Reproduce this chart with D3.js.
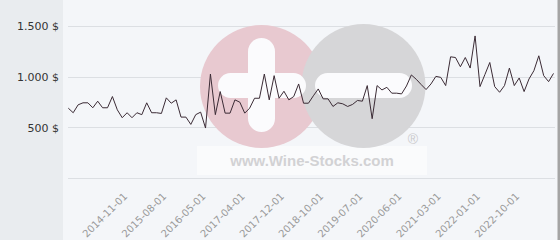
<!DOCTYPE html>
<html>
<head>
<meta charset="utf-8">
<script src="https://cdn.jsdelivr.net/npm/d3@7"></script>
<style>
  html, body { margin: 0; padding: 0; background: #e9ecef; }
  svg { display: block; }
</style>
</head>
<body>
<svg id="chart" width="560" height="240"></svg>
<script>
const categories = [
  "2013-09-01","2013-10-01","2013-11-01","2013-12-01","2014-01-01","2014-02-01","2014-03-01","2014-04-01","2014-05-01","2014-06-01",
  "2014-07-01","2014-08-01","2014-09-01","2014-10-01","2014-11-01","2014-12-01","2015-01-01","2015-02-01","2015-03-01","2015-05-01",
  "2015-06-01","2015-07-01","2015-08-01","2015-09-01","2015-10-01","2015-11-01","2015-12-01","2016-01-01","2016-03-01","2016-04-01",
  "2016-05-01","2016-06-01","2016-07-01","2016-09-01","2016-10-01","2016-12-01","2017-01-01","2017-03-01","2017-04-01","2017-05-01",
  "2017-06-01","2017-07-01","2017-08-01","2017-09-01","2017-10-01","2017-11-01","2017-12-01","2018-01-01","2018-02-01","2018-04-01",
  "2018-05-01","2018-06-01","2018-07-01","2018-09-01","2018-10-01","2018-11-01","2018-12-01","2019-01-01","2019-02-01","2019-03-01",
  "2019-05-01","2019-06-01","2019-07-01","2019-08-01","2019-09-01","2019-11-01","2019-12-01","2020-02-01","2020-03-01","2020-05-01",
  "2020-06-01","2020-07-01","2020-08-01","2020-09-01","2020-10-01","2020-11-01","2020-12-01","2021-02-01","2021-03-01","2021-04-01",
  "2021-05-01","2021-06-01","2021-07-01","2021-08-01","2021-10-01","2021-12-01","2022-01-01","2022-02-01","2022-03-01","2022-04-01",
  "2022-05-01","2022-06-01","2022-07-01","2022-08-01","2022-10-01","2022-11-01","2022-12-01","2023-01-01","2023-02-01","2023-03-01"
];
const prices = [
  689, 644, 722, 742, 742, 693, 758, 693, 693, 804,
  673, 595, 644, 595, 644, 625, 742, 644, 644, 637,
  791, 738, 771, 601, 601, 529, 625, 650, 493, 1026,
  625, 853, 640, 640, 771, 748, 640, 689, 787, 787,
  1026, 771, 1010, 787, 856, 771, 804, 928, 738, 738,
  811, 879, 781, 781, 706, 742, 732, 706, 726, 765,
  758, 912, 585, 912, 869, 895, 837, 837, 830, 908,
  1017, 974, 922, 873, 928, 1003, 993, 912, 1196, 1189,
  1098, 1189, 1085, 1402, 902, 1020, 1140, 902, 846, 912,
  1085, 912, 987, 853, 977, 1059, 1206, 1010, 951, 1032
];
const xTickLabels = ["2014-11-01","2015-08-01","2016-05-01","2017-04-01","2017-12-01","2018-10-01",
                     "2019-07-01","2020-06-01","2021-03-01","2022-01-01","2022-10-01"];
const yTickValues = [500, 1000, 1500];
const gridValues = [0, 500, 1000, 1500];

const svg = d3.select("#chart");

// backgrounds
svg.append("rect").attr("x", 0).attr("y", 0).attr("width", 63).attr("height", 240).attr("fill", "#e9ecef");
svg.append("rect").attr("x", 63).attr("y", 0).attr("width", 495).attr("height", 240).attr("fill", "#f4f6f9");
svg.append("rect").attr("x", 557.5).attr("y", 0).attr("width", 2.5).attr("height", 240).attr("fill", "#a4a4a4");

const x = d3.scalePoint().domain(categories).range([68.3, 553.5]);
const y = d3.scaleLinear().domain([0, 1500]).range([178, 26]);

// gridlines
svg.append("g").selectAll("line").data(gridValues).join("line")
  .attr("x1", 68).attr("x2", 555)
  .attr("y1", d => Math.round(y(d)) + 0.5).attr("y2", d => Math.round(y(d)) + 0.5)
  .attr("stroke", "#dcdfe3").attr("stroke-width", 1);

// watermark
const wm = svg.append("g");
wm.append("rect").attr("x", 197).attr("y", 146).attr("width", 230).attr("height", 29)
  .attr("fill", "#ffffff").attr("opacity", 0.55);
wm.append("circle").attr("cx", 261.5).attr("cy", 86.5).attr("r", 61.5).attr("fill", "#e8c9d0");
wm.append("circle").attr("cx", 363.5).attr("cy", 86).attr("r", 62).attr("fill", "#d6d6d8");
wm.append("rect").attr("x", 248).attr("y", 38).attr("width", 27).attr("height", 94).attr("rx", 13.5)
  .attr("fill", "#fbfbfd");
wm.append("rect").attr("x", 218).attr("y", 73).attr("width", 88).attr("height", 25).attr("rx", 12.5)
  .attr("fill", "#fbfbfd");
wm.append("rect").attr("x", 315).attr("y", 73).attr("width", 97).attr("height", 25).attr("rx", 12.5)
  .attr("fill", "#fbfbfd");
wm.append("text").attr("x", 312).attr("y", 166).attr("text-anchor", "middle")
  .attr("font-family", "Liberation Sans, Arial, sans-serif").attr("font-weight", "bold")
  .attr("font-size", 15).attr("fill", "#d2d2d4").text("www.Wine-Stocks.com");
wm.append("text").attr("x", 413).attr("y", 144).attr("text-anchor", "middle")
  .attr("font-family", "Liberation Sans, Arial, sans-serif")
  .attr("font-size", 14).attr("fill", "#cacacc").text("®");

// y axis
const yAxis = d3.axisLeft(y).tickValues(yTickValues).tickSize(0)
  .tickFormat(d => d3.format(",")(d).replace(/,/g, ".") + " $");
const gy = svg.append("g").attr("transform", "translate(59,0)").call(yAxis);
gy.select(".domain").remove();
gy.selectAll("text").attr("x", 0).attr("dy", "0.35em")
  .attr("font-family", "DejaVu Sans, sans-serif").attr("font-size", 11).attr("fill", "#333");

// x axis
const xAxis = d3.axisBottom(x).tickValues(xTickLabels).tickSize(0);
const gx = svg.append("g").attr("transform", "translate(0,178)").call(xAxis);
gx.select(".domain").remove();
gx.selectAll("text")
  .attr("y", 0).attr("dy", 0)
  .attr("transform", "translate(-9.5,19) rotate(-45)")
  .attr("text-anchor", "end")
  .attr("font-family", "DejaVu Sans, sans-serif").attr("font-size", 10).attr("fill", "#9a9a9a");

// line
const line = d3.line().x((d, i) => x(categories[i])).y(d => y(d));
svg.append("path").datum(prices)
  .attr("d", line).attr("fill", "none")
  .attr("stroke", "#3b2b35").attr("stroke-width", 1).attr("stroke-linejoin", "miter");
</script>
</body>
</html>
